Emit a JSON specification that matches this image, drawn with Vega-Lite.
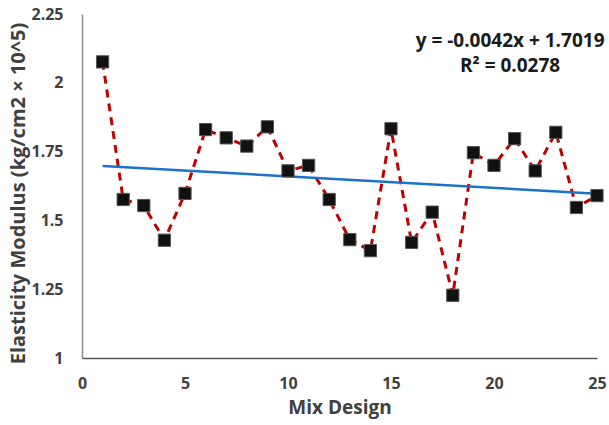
{
  "$schema": "https://vega.github.io/schema/vega-lite/v6.json",
  "width": 515,
  "height": 344,
  "autosize": {"type": "none"},
  "padding": {"left": 82, "top": 14, "right": 12, "bottom": 67},
  "background": "white",
  "config": {
    "view": {"stroke": null},
    "font": "Open Sans"
  },
  "datasets": {
    "pts": [
      {"mix": 1, "E": 2.076},
      {"mix": 2, "E": 1.576},
      {"mix": 3, "E": 1.554},
      {"mix": 4, "E": 1.428},
      {"mix": 5, "E": 1.598},
      {"mix": 6, "E": 1.83},
      {"mix": 7, "E": 1.80},
      {"mix": 8, "E": 1.77},
      {"mix": 9, "E": 1.84},
      {"mix": 10, "E": 1.68},
      {"mix": 11, "E": 1.70},
      {"mix": 12, "E": 1.576},
      {"mix": 13, "E": 1.43},
      {"mix": 14, "E": 1.39},
      {"mix": 15, "E": 1.833},
      {"mix": 16, "E": 1.42},
      {"mix": 17, "E": 1.53},
      {"mix": 18, "E": 1.228},
      {"mix": 19, "E": 1.746},
      {"mix": 20, "E": 1.70},
      {"mix": 21, "E": 1.797},
      {"mix": 22, "E": 1.68},
      {"mix": 23, "E": 1.82},
      {"mix": 24, "E": 1.547},
      {"mix": 25, "E": 1.59}
    ],
    "trend": [
      {"mix": 1, "E": 1.6977},
      {"mix": 25, "E": 1.5969}
    ],
    "labels": [
      {"mix": 20.78, "E": 2.152, "txt": "y = -0.0042x + 1.7019"},
      {"mix": 20.78, "E": 2.062, "txt": "R² = 0.0278"}
    ]
  },
  "encoding": {
    "x": {
      "field": "mix", "type": "quantitative",
      "scale": {"domain": [0, 25], "nice": false, "zero": false},
      "axis": {
        "title": "Mix Design", "values": [0, 5, 10, 15, 20, 25],
        "grid": false, "ticks": false, "domainColor": "#595959", "domainWidth": 1.5,
        "labelFont": "Open Sans", "labelFontSize": 16, "labelFontWeight": "bold", "labelColor": "#404040",
        "labelPadding": 17, "labelFlush": false,
        "titleFont": "Open Sans", "titleFontSize": 19, "titleFontWeight": "bold", "titleColor": "#404040",
        "titlePadding": 7
      }
    },
    "y": {
      "field": "E", "type": "quantitative",
      "scale": {"domain": [1, 2.25], "nice": false, "zero": false},
      "axis": {
        "title": "Elasticity Modulus (kg/cm2 × 10^5)", "values": [1, 1.25, 1.5, 1.75, 2, 2.25],
        "format": ".2~f",
        "grid": false, "ticks": false, "domainColor": "#8c8c8c", "domainWidth": 1.5,
        "labelFont": "Open Sans", "labelFontSize": 16, "labelFontWeight": "bold", "labelColor": "#404040",
        "labelPadding": 19, "labelFlush": false,
        "titleFont": "Open Sans", "titleFontSize": 20, "titleFontWeight": "bold", "titleColor": "#404040",
        "titleX": -64, "titleY": 179, "titleAngle": -90, "titleAlign": "center", "titleBaseline": "middle"
      }
    }
  },
  "layer": [
    {
      "data": {"name": "pts"},
      "mark": {"type": "line", "color": "#c00000", "strokeWidth": 3, "strokeDash": [8, 6]},
      "encoding": {}
    },
    {
      "data": {"name": "trend"},
      "mark": {"type": "line", "color": "#1a73c6", "strokeWidth": 2.5},
      "encoding": {}
    },
    {
      "data": {"name": "pts"},
      "mark": {"type": "point", "shape": "square", "filled": true, "size": 150, "color": "#111111", "opacity": 1, "stroke": "#555555", "strokeWidth": 1},
      "encoding": {}
    },
    {
      "data": {"name": "labels"},
      "mark": {"type": "text", "font": "Open Sans", "fontSize": 19, "fontWeight": "bold", "color": "#1a1a1a", "align": "center", "baseline": "middle"},
      "encoding": {"text": {"field": "txt"}}
    }
  ]
}
